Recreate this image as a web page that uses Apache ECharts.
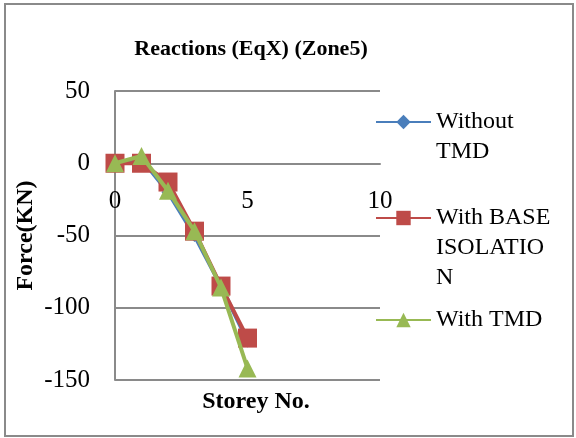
<!DOCTYPE html>
<html><head><meta charset="utf-8">
<script src="https://cdn.jsdelivr.net/npm/echarts@6/dist/echarts.min.js"></script>
<style>html,body{margin:0;padding:0;background:#fff}#c{width:576px;height:438px}</style>
</head><body><div id="c"></div>
<script>
const storeys = [0, 1, 2, 3, 4, 5];
const withoutTMD = [0, 3, -20, -50, -85, -123];
const withBaseIsolation = [0, 0, -13, -47, -85, -121];
const withTMD = [0, 5, -19, -47, -86, -142];
const seriesNames = ['Without TMD', 'With BASE ISOLATION', 'With TMD'];
const legendLines = [['Without', 'TMD'], ['With BASE', 'ISOLATIO', 'N'], ['With TMD']];
const yTicks = { min: -150, max: 50, interval: 50 };
const xTicks = { min: 0, max: 10, interval: 5 };

const FONT = '"Liberation Serif","Times New Roman",serif';
const colors = ['#4A7EBB', '#BE4B48', '#98B954'];
const symbols = ['diamond', 'rect', 'triangle'];
const symbolSizes = [13, 19, 18];
const dataSets = [withoutTMD, withBaseIsolation, withTMD];
const LH = 30;
const legendIconY = [122, 218, 320];
const GRID = { left: 115, top: 91, right: 196, bottom: 58 };
const gridHeight = 438 - GRID.top - GRID.bottom;
// x axis crosses the y axis at value 0
const xAxisOffset = -gridHeight * (0 - yTicks.min) / (yTicks.max - yTicks.min);

const chart = echarts.init(document.getElementById('c'));
const legends = legendLines.map((lines, i) => {
  const n = lines.length;
  const pad = new Array(n - 1).fill(' ');
  return {
    orient: 'vertical',
    left: 375,
    top: legendIconY[i] - (2 * n - 1) * LH / 2,
    padding: 0,
    itemWidth: 55,
    itemHeight: 18,
    itemGap: 0,
    data: [{ name: seriesNames[i] }],
    formatter: () => pad.concat(lines).join('\n'),
    textStyle: { fontFamily: FONT, fontSize: 24, color: '#000', lineHeight: LH }
  };
});

chart.setOption({
  animation: false,
  backgroundColor: '#fff',
  title: [
    { text: 'Reactions (EqX) (Zone5)', left: 251, top: 38, textAlign: 'center', padding: 0,
      textStyle: { fontFamily: FONT, fontSize: 22, fontWeight: 'bold', color: '#000' } },
    { text: 'Storey No.', left: 256, top: 390, textAlign: 'center', padding: 0,
      textStyle: { fontFamily: FONT, fontSize: 24, fontWeight: 'bold', color: '#000' } }
  ],
  legend: legends,
  grid: Object.assign({ containLabel: false }, GRID),
  xAxis: {
    type: 'value', min: xTicks.min, max: xTicks.max, interval: xTicks.interval,
    position: 'bottom', offset: xAxisOffset,
    axisLine: { show: true, onZero: false, lineStyle: { color: '#8a8a8a', width: 2 } },
    axisTick: { show: false },
    splitLine: { show: false },
    axisLabel: { fontFamily: FONT, fontSize: 25, color: '#000', margin: 26 }
  },
  yAxis: {
    type: 'value', min: yTicks.min, max: yTicks.max, interval: yTicks.interval,
    name: 'Force(KN)', nameLocation: 'middle', nameGap: 77,
    nameTextStyle: { fontFamily: FONT, fontSize: 24, fontWeight: 'bold', color: '#000' },
    axisLine: { show: true, onZero: false, lineStyle: { color: '#8a8a8a', width: 2 } },
    axisTick: { show: false },
    splitLine: { show: true, lineStyle: { color: '#8a8a8a', width: 2 } },
    axisLabel: { fontFamily: FONT, fontSize: 25, color: '#000', margin: 25 }
  },
  graphic: [{
    type: 'rect', shape: { x: 5, y: 4, width: 568, height: 432 },
    style: { fill: 'none', stroke: '#8a8a8a', lineWidth: 2 }, silent: true, z: 100
  }],
  series: dataSets.map((d, i) => ({
    name: seriesNames[i], type: 'line',
    data: storeys.map((s, j) => [s, d[j]]),
    symbol: symbols[i], symbolSize: symbolSizes[i],
    lineStyle: { color: colors[i], width: 4 },
    itemStyle: { color: colors[i] },
    z: 2 + i
  }))
});
</script></body></html>
